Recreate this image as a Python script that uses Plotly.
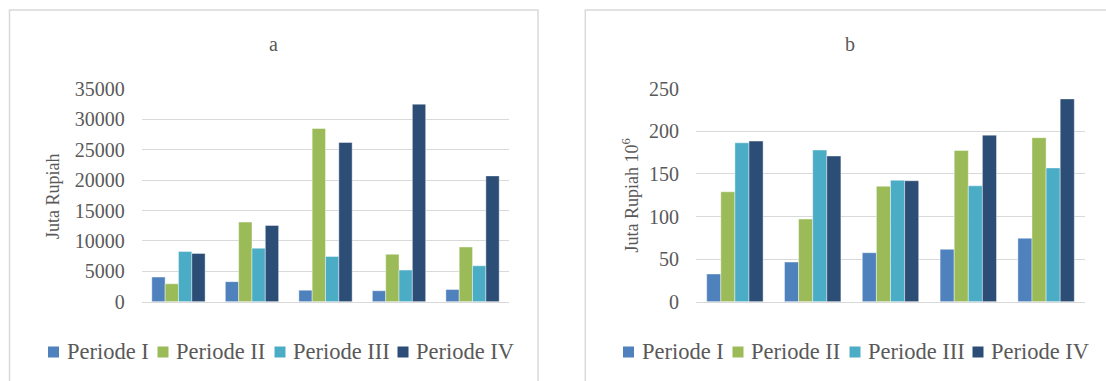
import plotly.graph_objects as go

W, H = 1106, 381

categories = ["1", "2", "3", "4", "5"]
series_names = ["Periode I", "Periode II", "Periode III", "Periode IV"]
series_colors = ["#4f81bd", "#9bbb59", "#4bacc6", "#2c4d75"]

# Panel a (Juta Rupiah)
a_p1 = [4050, 3300, 1900, 1800, 2000]
a_p2 = [2950, 13100, 28500, 7800, 9000]
a_p3 = [8250, 8800, 7450, 5200, 5900]
a_p4 = [7950, 12550, 26200, 32500, 20700]
a_tickvals = [0, 5000, 10000, 15000, 20000, 25000, 30000, 35000]

# Panel b (Juta Rupiah 10^6)
b_p1 = [32.5, 46.5, 57.5, 61.5, 74.5]
b_p2 = [129, 97, 135.5, 177.5, 192.5]
b_p3 = [186.5, 178, 142.5, 136, 157]
b_p4 = [188.5, 171, 142, 195.5, 238]
b_tickvals = [0, 50, 100, 150, 200, 250]

a_series = [a_p1, a_p2, a_p3, a_p4]
b_series = [b_p1, b_p2, b_p3, b_p4]


def px(x):
    return x / W


def py(y):
    return 1 - y / H


FONT = "Liberation Serif"
TXT = "#595959"
GRID = "#d9d9d9"

fig = go.Figure()
for name, color, vals in zip(series_names, series_colors, a_series):
    fig.add_trace(go.Bar(x=categories, y=vals, name=name, marker_color=color,
                         marker_line=dict(width=0.6, color="rgba(255,255,255,0.7)"),
                         xaxis="x", yaxis="y", showlegend=False))
for name, color, vals in zip(series_names, series_colors, b_series):
    fig.add_trace(go.Bar(x=categories, y=vals, name=name, marker_color=color,
                         marker_line=dict(width=0.6, color="rgba(255,255,255,0.7)"),
                         xaxis="x2", yaxis="y2", showlegend=False))

xcommon = dict(showgrid=False, showticklabels=False, zeroline=False, automargin=False,
               showline=True, linecolor=GRID, linewidth=1.2, ticks="", fixedrange=True)
ycommon = dict(showgrid=True, gridcolor=GRID, gridwidth=1, zeroline=False, showline=False,
               automargin=False, ticks="", ticklabelstandoff=16, tickformat="d",
               tickfont=dict(family=FONT, size=20, color=TXT), fixedrange=True)

fig.update_layout(
    width=W, height=H,
    margin=dict(l=0, r=0, t=0, b=0),
    template="none",
    paper_bgcolor="white", plot_bgcolor="white",
    barmode="group", bargap=0.275, bargroupgap=0,
    showlegend=False,
    xaxis=dict(domain=[px(141.7), px(509.3)], anchor="y", **xcommon),
    yaxis=dict(domain=[py(301.7), py(89)], anchor="x", range=[0, 35000],
               tickvals=a_tickvals, **ycommon),
    xaxis2=dict(domain=[px(696), px(1085)], anchor="y2", **xcommon),
    yaxis2=dict(domain=[py(301.7), py(88.7)], anchor="x2", range=[0, 250],
                tickvals=b_tickvals, **ycommon),
)

shapes = [
    dict(type="rect", xref="paper", yref="paper", x0=px(9.5), x1=px(538), y0=py(420), y1=py(10),
         line=dict(color=GRID, width=1.5), fillcolor="rgba(0,0,0,0)", layer="below"),
    dict(type="rect", xref="paper", yref="paper", x0=px(585.3), x1=px(1114), y0=py(420), y1=py(10),
         line=dict(color=GRID, width=1.5), fillcolor="rgba(0,0,0,0)", layer="below"),
]

annotations = [
    dict(text="a", x=px(273.7), y=py(44), xref="paper", yref="paper", showarrow=False,
         xanchor="center", yanchor="middle", font=dict(family=FONT, size=20, color=TXT)),
    dict(text="b", x=px(849.5), y=py(44), xref="paper", yref="paper", showarrow=False,
         xanchor="center", yanchor="middle", font=dict(family=FONT, size=20, color=TXT)),
    dict(text="Juta Rupiah", x=px(52.5), y=py(196.5), xref="paper", yref="paper",
         showarrow=False, textangle=-90, xanchor="center", yanchor="middle",
         font=dict(family=FONT, size=18, color=TXT)),
    dict(text="Juta Rupiah 10<sup>6</sup>", x=px(630.5), y=py(196), xref="paper", yref="paper",
         showarrow=False, textangle=-90, xanchor="center", yanchor="middle",
         font=dict(family=FONT, size=18, color=TXT)),
]

# Legends (one per panel), drawn as swatches + labels
legend_offsets = [0, 109.5, 226.5, 349.5]
for x_start in (48, 623):
    for name, color, off in zip(series_names, series_colors, legend_offsets):
        mx = x_start + off
        shapes.append(dict(type="rect", xref="paper", yref="paper",
                           x0=px(mx), x1=px(mx + 11), y0=py(357.5), y1=py(346.5),
                           line=dict(width=0), fillcolor=color))
        annotations.append(dict(text=name, x=px(mx + 16.5), y=py(351.5), xref="paper",
                                yref="paper", showarrow=False, xanchor="left",
                                yanchor="middle",
                                font=dict(family=FONT, size=22.5, color=TXT)))

fig.update_layout(shapes=shapes, annotations=annotations)
fig.write_html("out.html",
               config={"displayModeBar": False, "staticPlot": True},
               post_script="document.body.style.margin='0';document.body.style.overflow='hidden';")
